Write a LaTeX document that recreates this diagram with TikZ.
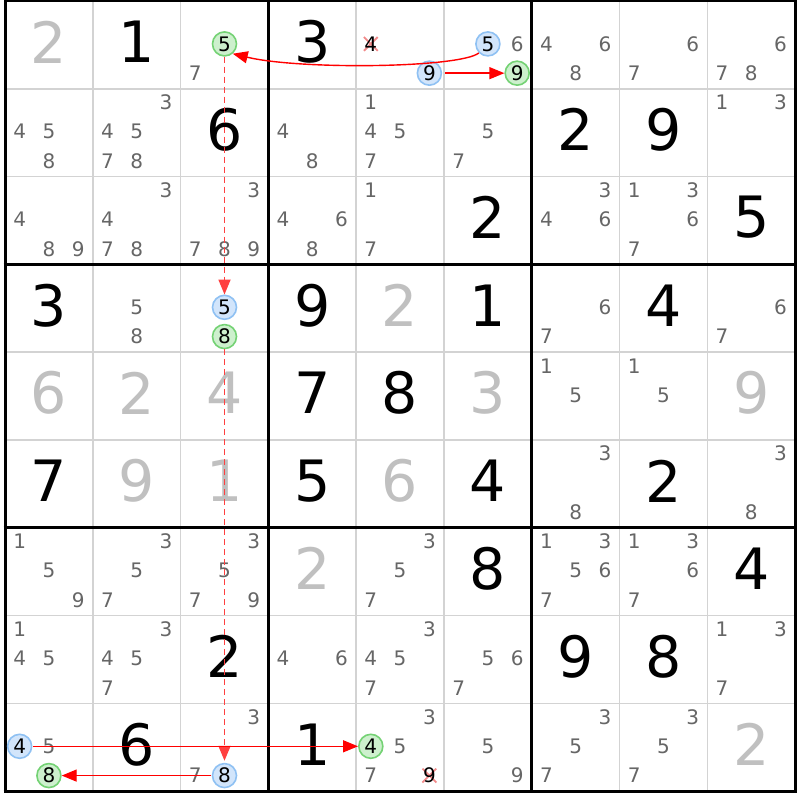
\documentclass[tikz,border=0pt]{standalone}
\usepackage{fontspec}
\setmainfont{DejaVu Sans}
\usetikzlibrary{arrows.meta,shapes.misc}
\definecolor{pmgray}{HTML}{666666}
\definecolor{solgray}{HTML}{C0C0C0}
\definecolor{thingrid}{HTML}{D3D3D3}
\definecolor{bfill}{HTML}{D2E5FB}
\definecolor{bdraw}{HTML}{8FC1F3}
\definecolor{gfill}{HTML}{CDF0CD}
\definecolor{gdraw}{HTML}{74D274}
\definecolor{xred}{HTML}{F28A8A}
\definecolor{dred}{HTML}{FF4040}
\definecolor{lred}{HTML}{FF0000}
\tikzset{
 pm/.style={inner sep=0pt, text=pmgray, font=\fontsize{20}{20}\selectfont},
 bigblack/.style={inner sep=0pt, text=black, font=\fontsize{57}{57}\selectfont},
 biggray/.style={bigblack, text=solgray},
 bluec/.style={circle, draw=bdraw, fill=bfill, line width=1.6pt, minimum size=24pt, inner sep=0pt, text=black, font=\fontsize{20}{20}\selectfont},
 greenc/.style={bluec, draw=gdraw, fill=gfill},
 elim/.style={cross out, draw=xred, line width=1.8pt, minimum size=12pt, inner sep=0pt},
 elimtxt/.style={pm, text=black},
 thinline/.style={draw=thingrid, line width=1.5pt},
 thickline/.style={draw=black, line width=3pt},
 link/.style={draw=lred, line width=1.4pt, -{Triangle[length=15pt,width=12pt]}},
 dlink/.style={draw=dred, line width=1.8pt, dash pattern=on 6pt off 4pt, -{Triangle[length=15pt,width=12pt]}},
}
% pencil marks: row, col, list
\newcommand\pcands[3]{%
 \foreach \d in {#3}{%
  \pgfmathsetmacro\px{5+(#2-1)*87.8+14.633+mod(\d-1,3)*29.267}%
  \pgfmathsetmacro\py{1+(#1-1)*87.8+14.633+floor((\d-1)/3)*29.267-1}%
  \node[pm] (p#1#2\d) at (\px,\py) {\d};}}
% big digit: style, row, col, digit
\newcommand\bigd[4]{%
  \pgfmathsetmacro\px{5+(#3-0.5)*87.8}%
  \pgfmathsetmacro\py{1+(#2-0.5)*87.8-3}%
  \node[#1] (g#2#3) at (\px,\py) {#4};}
% circled candidate: style, name, row, col, digit
\newcommand\ccand[5]{%
  \pgfmathsetmacro\px{5+(#4-1)*87.8+14.633+mod(#5-1,3)*29.267}%
  \pgfmathsetmacro\py{1+(#3-1)*87.8+14.633+floor((#5-1)/3)*29.267-1}%
  \node[#1] (#2) at (\px,\py) {#5};}
% eliminated candidate: name, row, col, digit
\newcommand\ecand[4]{%
  \pgfmathsetmacro\px{5+(#3-1)*87.8+14.633+mod(#4-1,3)*29.267}%
  \pgfmathsetmacro\py{1+(#2-1)*87.8+14.633+floor((#4-1)/3)*29.267-1}%
  \node[elim] (#1) at (\px,\py) {};
  \node[elimtxt] (#1t) at (\px,\py) {#4};}
\begin{document}
\begin{tikzpicture}[x=1pt,y=-1pt]
\useasboundingbox (0,0) rectangle (800,800);
\fill[white] (0,0) rectangle (800,800);
% grid
\foreach \i in {1,2,4,5,7,8}{
  \draw[thinline] ({5+\i*87.8},1) -- ({5+\i*87.8},791.2);
  \draw[thinline] (5,{1+\i*87.8}) -- (795.2,{1+\i*87.8});
}
\foreach \i in {0,3,6,9}{
  \draw[thickline] ({5+\i*87.8},-0.5) -- ({5+\i*87.8},792.7);
  \draw[thickline] (3.5,{1+\i*87.8}) -- (796.7,{1+\i*87.8});
}
% givens (black)
\bigd{bigblack}{1}{2}{1} \bigd{bigblack}{1}{4}{3}
\bigd{bigblack}{2}{3}{6} \bigd{bigblack}{2}{7}{2} \bigd{bigblack}{2}{8}{9}
\bigd{bigblack}{3}{6}{2} \bigd{bigblack}{3}{9}{5}
\bigd{bigblack}{4}{1}{3} \bigd{bigblack}{4}{4}{9} \bigd{bigblack}{4}{6}{1} \bigd{bigblack}{4}{8}{4}
\bigd{bigblack}{5}{4}{7} \bigd{bigblack}{5}{5}{8}
\bigd{bigblack}{6}{1}{7} \bigd{bigblack}{6}{4}{5} \bigd{bigblack}{6}{6}{4} \bigd{bigblack}{6}{8}{2}
\bigd{bigblack}{7}{6}{8} \bigd{bigblack}{7}{9}{4}
\bigd{bigblack}{8}{3}{2} \bigd{bigblack}{8}{7}{9} \bigd{bigblack}{8}{8}{8}
\bigd{bigblack}{9}{2}{6} \bigd{bigblack}{9}{4}{1}
% solved (gray)
\bigd{biggray}{1}{1}{2} \bigd{biggray}{4}{5}{2}
\bigd{biggray}{5}{1}{6} \bigd{biggray}{5}{2}{2} \bigd{biggray}{5}{3}{4} \bigd{biggray}{5}{6}{3} \bigd{biggray}{5}{9}{9}
\bigd{biggray}{6}{2}{9} \bigd{biggray}{6}{3}{1} \bigd{biggray}{6}{5}{6}
\bigd{biggray}{7}{4}{2} \bigd{biggray}{9}{9}{2}
% pencil marks
\pcands{1}{3}{7} \pcands{1}{6}{6} \pcands{1}{7}{4,6,8} \pcands{1}{8}{6,7} \pcands{1}{9}{6,7,8}
\pcands{2}{1}{4,5,8} \pcands{2}{2}{3,4,5,7,8} \pcands{2}{4}{4,8} \pcands{2}{5}{1,4,5,7} \pcands{2}{6}{5,7} \pcands{2}{9}{1,3}
\pcands{3}{1}{4,8,9} \pcands{3}{2}{3,4,7,8} \pcands{3}{3}{3,7,8,9} \pcands{3}{4}{4,6,8} \pcands{3}{5}{1,7} \pcands{3}{7}{3,4,6} \pcands{3}{8}{1,3,6,7}
\pcands{4}{2}{5,8} \pcands{4}{7}{6,7} \pcands{4}{9}{6,7}
\pcands{5}{7}{1,5} \pcands{5}{8}{1,5}
\pcands{6}{7}{3,8} \pcands{6}{9}{3,8}
\pcands{7}{1}{1,5,9} \pcands{7}{2}{3,5,7} \pcands{7}{3}{3,5,7,9} \pcands{7}{5}{3,5,7} \pcands{7}{7}{1,3,5,6,7} \pcands{7}{8}{1,3,6,7}
\pcands{8}{1}{1,4,5} \pcands{8}{2}{3,4,5,7} \pcands{8}{4}{4,6} \pcands{8}{5}{3,4,5,7} \pcands{8}{6}{5,6,7} \pcands{8}{9}{1,3,7}
\pcands{9}{1}{5} \pcands{9}{3}{3,7} \pcands{9}{5}{3,5,7} \pcands{9}{6}{5,9} \pcands{9}{7}{3,5,7} \pcands{9}{8}{3,5,7}
% eliminations
\ecand{x15}{1}{5}{4}
\ecand{x95}{9}{5}{9}
% circled candidates
\ccand{greenc}{a135}{1}{3}{5}
\ccand{bluec}{a159}{1}{5}{9}
\ccand{bluec}{a165}{1}{6}{5}
\ccand{greenc}{a169}{1}{6}{9}
\ccand{bluec}{a435}{4}{3}{5}
\ccand{greenc}{a438}{4}{3}{8}
\ccand{bluec}{a914}{9}{1}{4}
\ccand{greenc}{a918}{9}{1}{8}
\ccand{bluec}{a938}{9}{3}{8}
\ccand{greenc}{a954}{9}{5}{4}
% links
\draw[link] (a165.-135) .. controls (460,68) and (300,70) .. (a135.-50);
\draw[link, shorten <=3pt] (a159) -- (a169);
\draw[dlink] (a135) -- (a435);
\draw[dlink, shorten >=2pt] (a438) -- (a938);
\draw[link, shorten <=1pt] (a914) -- (a954);
\draw[link, shorten <=1pt] (a938) -- (a918);
\end{tikzpicture}
\end{document}
